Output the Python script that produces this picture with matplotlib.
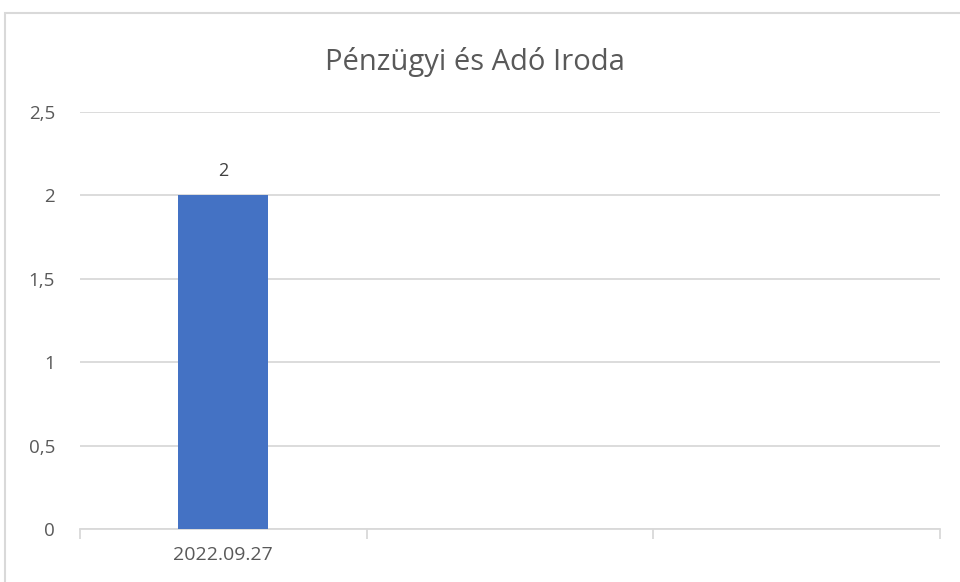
import matplotlib
matplotlib.use("Agg")
import matplotlib.pyplot as plt
from matplotlib.patches import Rectangle
from matplotlib.ticker import FuncFormatter

title = "Pénzügyi és Adó Iroda"
categories = ["2022.09.27", "", ""]
values = [2, None, None]
y_ticks = [0, 0.5, 1, 1.5, 2, 2.5]

W, H = 960, 582
fig = plt.figure(figsize=(W/100, H/100), dpi=100)
plt.rcParams['font.family'] = ['Open Sans', 'DejaVu Sans']

# chart border (cropped on right/bottom)
fig.patches.append(Rectangle((5/W, -0.1), 2, 1 - 13/H + 0.1, transform=fig.transFigure,
                             fill=False, edgecolor='#d9d9d9', linewidth=1.5))

ax = fig.add_axes([80/W, 1 - 529/H, (940-80)/W, (529-112)/H])
x = list(range(len(categories)))
xs = [i for i, v in zip(x, values) if v is not None]
vs = [v for v in values if v is not None]
bars = ax.bar(xs, vs, width=0.313, color='#4472c4', zorder=3)
for b, v in zip(bars, vs):
    ax.text(b.get_x() + b.get_width()/2, v + 0.145, f"{v}", ha='center', va='center',
            fontsize=13, color='#404040')

ax.set_xlim(-0.5, len(categories) - 0.5)
ax.set_ylim(0, 2.5)
ax.set_yticks(y_ticks)
ax.yaxis.set_major_formatter(FuncFormatter(lambda v, p: (f"{v:g}").replace('.', ',')))
ax.grid(axis='y', color='#d9d9d9', linewidth=1.3, zorder=0)
for s in ['top', 'right', 'left']:
    ax.spines[s].set_visible(False)
ax.spines['bottom'].set_color('#d9d9d9')
ax.spines['bottom'].set_linewidth(1.3)
ax.tick_params(axis='y', length=0, pad=18, labelsize=13.5, labelcolor='#595959')
ax.set_xticks(x)
ax.set_xticklabels(categories)
ax.tick_params(axis='x', which='major', length=0, pad=12, labelsize=14, labelcolor='#595959')
ax.set_xticks([i - 0.5 for i in range(len(categories) + 1)], minor=True)
ax.tick_params(axis='x', which='minor', length=7, width=1.3, color='#d9d9d9', direction='out')

fig.text(0.5 - 0.005, 1 - 62/H, title, ha='center', va='center', fontsize=21, color='#595959')

fig.savefig("out.png", dpi=100)
